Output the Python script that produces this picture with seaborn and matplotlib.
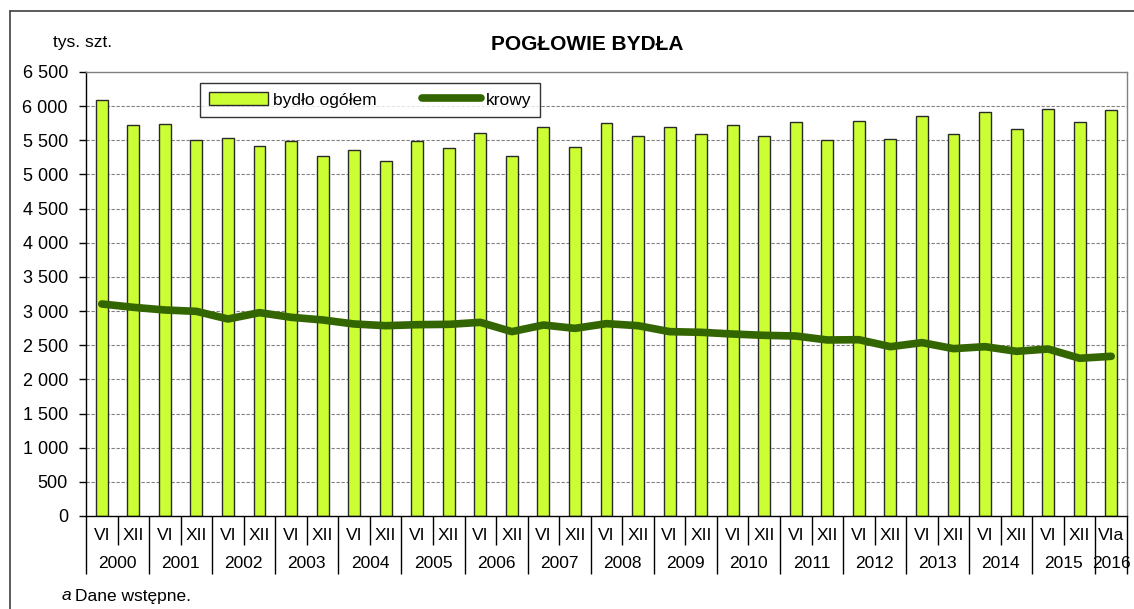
import numpy as np
import pandas as pd
import matplotlib
matplotlib.use('Agg')
import matplotlib.pyplot as plt
from matplotlib.lines import Line2D
import seaborn as sns

# dane: stan w czerwcu (VI) i grudniu (XII), tys. szt.
lata = [str(r) for r in range(2000, 2016)] + ['2016']
miesiace = ['VI', 'XII'] * 16 + ['VIa']
bydlo = [6090, 5720, 5734, 5500, 5534, 5421, 5490, 5275, 5354, 5197,
         5485, 5383, 5603, 5275, 5690, 5402, 5758, 5563, 5700, 5592,
         5720, 5558, 5763, 5500, 5778, 5519, 5856, 5597, 5919, 5661,
         5963, 5763, 5939]
krowy = [3104, 3055, 3016, 2996, 2884, 2977, 2909, 2870, 2811, 2786,
         2801, 2806, 2835, 2699, 2796, 2747, 2816, 2786, 2699, 2689,
         2664, 2645, 2635, 2577, 2581, 2479, 2538, 2450, 2479, 2411,
         2445, 2309, 2338]

n = len(bydlo)
df = pd.DataFrame({
    'okres': [f'{i:02d} {m}' for i, m in enumerate(miesiace)],
    'bydlo': bydlo,
    'krowy': krowy,
})

sns.set_style('white')
plt.rcParams['font.family'] = ['Liberation Sans', 'DejaVu Sans']
plt.rcParams['text.color'] = 'black'
plt.rcParams['ytick.color'] = 'black'
plt.rcParams['xtick.color'] = 'black'

fig = plt.figure(figsize=(11.34, 6.09), dpi=100)
ax = fig.add_axes([86 / 1134, 93 / 609, 1041 / 1134, 444 / 609])

# siatka pozioma
for v in range(500, 6500, 500):
    ax.axhline(v, color='#808080', lw=0.8, ls=(0, (3, 1.5)), zorder=0)

sns.barplot(data=df, x='okres', y='bydlo', color='#CCFF33', width=0.38,
            edgecolor='#2a2a2a', linewidth=1.0, saturation=1, ax=ax,
            label='bydło ogółem', zorder=2)
sns.lineplot(x=np.arange(n), y=krowy, color='#336600', lw=5.5, ax=ax,
             label='krowy', zorder=3, solid_capstyle='round')

ax.set_xlim(-0.5, n - 0.5)
ax.set_ylim(0, 6500)
ax.set_yticks(range(0, 6501, 500))
ax.set_yticklabels([f'{v:,}'.replace(',', ' ') for v in range(0, 6501, 500)],
                   fontsize=13)
ax.tick_params(axis='y', direction='out', length=5, width=1, color='black',
               left=True, pad=8)
ax.set_xlabel('')
ax.set_ylabel('')

# granice lat (dłuższe kreski) i półroczy (krótsze)
granice_lat = [-0.5 + 2 * k for k in range(17)] + [n - 0.5]
polrocza = [0.5 + 2 * k for k in range(16)]
ax.set_xticks(granice_lat)
ax.set_xticklabels([])
ax.set_xticks(polrocza, minor=True)
ax.tick_params(axis='x', which='major', direction='out', length=42, width=1,
               color='black', bottom=True)
ax.tick_params(axis='x', which='minor', direction='out', length=21, width=1,
               color='black', bottom=True)

tr = ax.get_xaxis_transform()
for i, m in enumerate(miesiace):
    ax.text(i, -19 / 444, m, transform=tr, ha='center', va='center', fontsize=12.5)
for k, r in enumerate(lata):
    xc = 2 * k + 0.5 if k < 16 else 2 * k
    ax.text(xc, -47 / 444, r, transform=tr, ha='center', va='center', fontsize=12.5)

for s in ['left', 'bottom']:
    ax.spines[s].set_color('black')
    ax.spines[s].set_linewidth(1)
for s in ['top', 'right']:
    ax.spines[s].set_color('#808080')
    ax.spines[s].set_linewidth(1)

handles, labels = ax.get_legend_handles_labels()
kolej = [labels.index('bydło ogółem'), labels.index('krowy')]
leg = ax.legend([handles[i] for i in kolej], [labels[i] for i in kolej],
                loc='center', bbox_to_anchor=((370 - 86) / 1041, 1 - 28 / 444),
                ncol=2, fontsize=12.5, frameon=True, fancybox=False,
                edgecolor='black', handlelength=3.4, handleheight=0.8,
                handletextpad=0.3, columnspacing=2.6, borderpad=0.5)
leg.get_frame().set_linewidth(1)

fig.text(587 / 1134, 1 - 45 / 609, 'POGŁOWIE BYDŁA', ha='center', va='center',
         fontsize=15, fontweight='bold')
fig.text(53 / 1134, 1 - 43 / 609, 'tys. szt.', ha='left', va='center', fontsize=12.5)
fig.text(62 / 1134, 1 - 596 / 609, 'a', ha='left', va='center', fontsize=12.5,
         style='italic')
fig.text(75 / 1134, 1 - 596 / 609, 'Dane wstępne.', ha='left', va='center',
         fontsize=12.5)

# ramka wykresu
fig.add_artist(Line2D([10 / 1134, 10 / 1134], [0, 1 - 11 / 609],
                      transform=fig.transFigure, color='#404040', lw=1.2))
fig.add_artist(Line2D([10 / 1134, 1], [1 - 11 / 609, 1 - 11 / 609],
                      transform=fig.transFigure, color='#404040', lw=1.2))

fig.savefig('out.png', dpi=100)
